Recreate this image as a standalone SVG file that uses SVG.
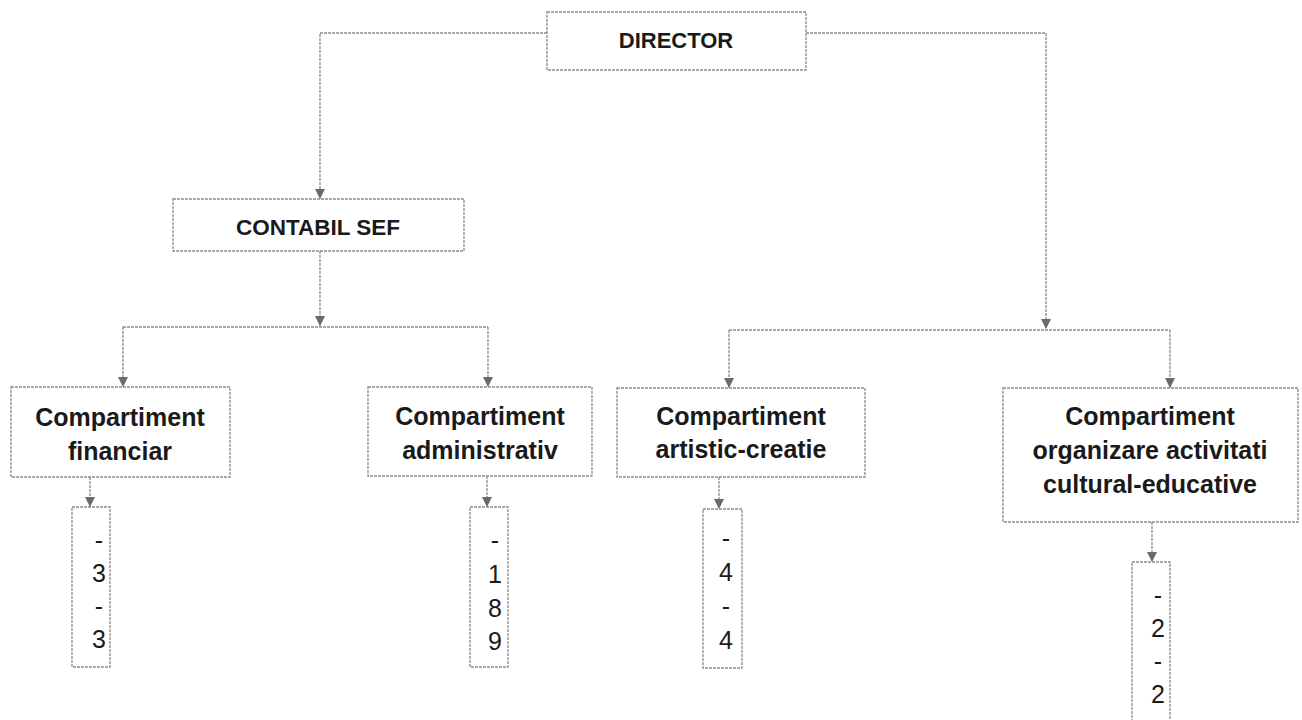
<svg xmlns="http://www.w3.org/2000/svg" width="1302" height="720" viewBox="0 0 1302 720">
<defs>
<marker id="arr" markerUnits="userSpaceOnUse" markerWidth="11" markerHeight="11" viewBox="0 0 11 11" refX="10" refY="5.5" orient="auto">
<path d="M0,0.5 L10,5.5 L0,10.5 Z" fill="#6a6a6a"/>
</marker>
<style>
.box{fill:#fff;stroke:#8c8c8c;stroke-width:1.3;stroke-dasharray:3 1}
.ln{fill:none;stroke:#8c8c8c;stroke-width:1.3;stroke-dasharray:3 1}
.t{font-family:"Liberation Sans",Arial,sans-serif;font-weight:bold;fill:#1a1a1a;text-anchor:middle}
.n{font-family:"Liberation Sans",Arial,sans-serif;font-size:25px;fill:#1a1a1a;text-anchor:middle}
</style>
</defs>
<rect width="1302" height="720" fill="#fff"/>
<g id="connectors">
<path class="ln" d="M547,33 H320 V199" marker-end="url(#arr)"/>
<path class="ln" d="M806,33 H1046 V329" marker-end="url(#arr)"/>
<path class="ln" d="M320,251 V326" marker-end="url(#arr)"/>
<path class="ln" d="M123,327 H488"/>
<path class="ln" d="M123,327 V387" marker-end="url(#arr)"/>
<path class="ln" d="M488,327 V387" marker-end="url(#arr)"/>
<path class="ln" d="M729,330 H1170"/>
<path class="ln" d="M729,330 V388" marker-end="url(#arr)"/>
<path class="ln" d="M1170,330 V388" marker-end="url(#arr)"/>
<path class="ln" d="M90,477 V507" marker-end="url(#arr)"/>
<path class="ln" d="M487,476 V507" marker-end="url(#arr)"/>
<path class="ln" d="M719,477 V509" marker-end="url(#arr)"/>
<path class="ln" d="M1152,522 V562" marker-end="url(#arr)"/>
</g>
<g id="director">
<rect class="box" x="547" y="12" width="259" height="58"/>
<text class="t" x="676" y="48" font-size="22">DIRECTOR</text>
</g>
<g id="contabil-sef">
<rect class="box" x="173" y="199" width="291" height="52"/>
<text class="t" x="318" y="235" font-size="22.5">CONTABIL SEF</text>
</g>
<g id="comp-financiar">
<rect class="box" x="11" y="387" width="219" height="90"/>
<text class="t" x="120" y="426" font-size="25">Compartiment</text>
<text class="t" x="120" y="460" font-size="25">financiar</text>
</g>
<g id="comp-administrativ">
<rect class="box" x="368" y="387" width="224" height="89"/>
<text class="t" x="480" y="425" font-size="25">Compartiment</text>
<text class="t" x="480" y="459" font-size="25">administrativ</text>
</g>
<g id="comp-artistic">
<rect class="box" x="617" y="388" width="248" height="89"/>
<text class="t" x="741" y="425" font-size="25">Compartiment</text>
<text class="t" x="741" y="458" font-size="25">artistic-creatie</text>
</g>
<g id="comp-organizare">
<rect class="box" x="1003" y="388" width="295" height="134"/>
<text class="t" x="1150" y="425" font-size="25">Compartiment</text>
<text class="t" x="1150" y="459" font-size="25">organizare activitati</text>
<text class="t" x="1150" y="493" font-size="25">cultural-educative</text>
</g>
<g id="num-financiar">
<rect class="box" x="72" y="507" width="38" height="160"/>
<text class="n" x="99" y="549">-</text>
<text class="n" x="99" y="582">3</text>
<text class="n" x="99" y="615">-</text>
<text class="n" x="99" y="648">3</text>
</g>
<g id="num-administrativ">
<rect class="box" x="470" y="507" width="38" height="160"/>
<text class="n" x="495" y="549">-</text>
<text class="n" x="495" y="583">1</text>
<text class="n" x="495" y="617">8</text>
<text class="n" x="495" y="650">9</text>
</g>
<g id="num-artistic">
<rect class="box" x="703" y="509" width="39" height="159"/>
<text class="n" x="726" y="547">-</text>
<text class="n" x="726" y="581">4</text>
<text class="n" x="726" y="615">-</text>
<text class="n" x="726" y="649">4</text>
</g>
<g id="num-organizare">
<rect class="box" x="1132" y="562" width="38" height="170"/>
<text class="n" x="1158" y="604">-</text>
<text class="n" x="1158" y="637">2</text>
<text class="n" x="1158" y="670">-</text>
<text class="n" x="1158" y="703">2</text>
</g>
</svg>
